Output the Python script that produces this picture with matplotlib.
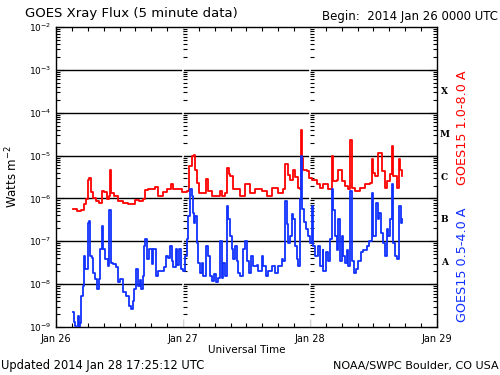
import numpy as np
import matplotlib
matplotlib.use("Agg")
import matplotlib.pyplot as plt
from matplotlib.ticker import FixedLocator, LogLocator, NullFormatter

# hours since 2014 Jan 26 00:00 UTC, log10 flux (W m^-2)
long_hours = [3.27, 3.91, 4.72, 5.35, 5.67, 5.99, 6.29, 6.61, 6.94, 7.56, 8.18, 8.69, 9.13,
              9.58, 10.07, 10.20, 10.45, 11.02, 11.66, 12.60, 13.55, 14.49, 14.99, 15.74,
              16.50, 16.88, 17.44, 18.39, 18.71, 19.33, 20.28, 20.92, 21.68, 22.17, 22.81,
              23.75, 24.70, 25.19, 25.64, 26.08, 26.27, 26.59, 27.08, 27.84, 28.35, 28.78,
              29.42, 30.24, 30.99, 31.31, 31.94, 32.37, 32.75, 32.88, 33.51, 34.77, 35.72,
              36.66, 37.61, 38.87, 39.82, 40.76, 42.01, 42.96, 43.33, 43.75, 44.22, 44.85,
              45.17, 45.79, 46.11, 46.26, 46.43, 46.73, 47.38, 47.87, 48.32, 49.27, 49.89,
              50.52, 51.46, 52.10, 52.40, 53.05, 53.35, 53.99, 54.61, 55.24, 55.56, 55.88,
              56.50, 57.45, 58.39, 59.34, 59.66, 59.96, 60.28, 60.91, 61.55, 62.17, 62.49,
              63.12, 63.44, 63.75, 64.39, 64.82, 65.01, 65.33]
long_flux = [-6.24, -6.30, -6.27, -6.14, -6.02, -5.56, -5.52, -5.86, -5.98, -6.06, -6.10, -5.83,
             -5.86, -6.02, -5.95, -5.33, -5.87, -5.95, -6.06, -6.10, -6.12, -6.12, -6.04, -6.06,
             -6.01, -5.81, -5.79, -5.79, -5.73, -5.95, -5.85, -5.79, -5.67, -5.79, -5.79, -5.85,
             -5.83, -5.25, -5.02, -4.98, -5.33, -5.64, -5.87, -5.87, -5.54, -5.83, -5.95, -5.95,
             -5.83, -5.95, -5.87, -5.29, -5.44, -5.48, -5.79, -5.95, -5.67, -5.87, -5.79, -5.83,
             -5.95, -5.75, -5.87, -5.79, -5.19, -5.45, -5.56, -5.33, -5.51, -5.75, -5.79, -4.40,
             -5.05, -5.33, -5.37, -5.52, -5.56, -5.67, -5.75, -5.67, -5.79, -5.02, -5.60, -5.56,
             -5.33, -5.60, -5.71, -5.79, -4.63, -5.75, -5.83, -5.75, -5.67, -5.64, -5.09, -5.40,
             -5.48, -4.93, -5.37, -5.75, -5.60, -5.44, -4.78, -5.48, -5.75, -5.09, -5.33, -5.48]

short_hours = [3.27, 3.40, 3.65, 3.87, 4.10, 4.40, 4.54, 4.72, 5.05, 5.35, 5.54, 5.99, 6.29,
               6.48, 6.80, 7.05, 7.43, 7.69, 8.07, 8.37, 8.64, 8.94, 9.32, 9.77, 10.07, 10.39,
               10.83, 11.34, 11.66, 12.09, 12.60, 13.23, 13.74, 14.17, 14.55, 14.80, 15.12,
               15.44, 15.78, 16.06, 16.50, 16.69, 16.88, 17.25, 17.63, 18.09, 18.39, 18.90,
               19.33, 19.98, 20.41, 20.79, 21.22, 21.54, 21.86, 22.17, 22.68, 22.92, 23.30,
               23.57, 23.94, 24.38, 24.70, 25.00, 25.32, 25.64, 25.83, 26.08, 26.27, 26.59,
               26.89, 27.21, 27.53, 27.84, 28.35, 28.67, 29.10, 29.42, 29.86, 30.24, 30.67,
               30.99, 31.31, 31.62, 31.94, 32.26, 32.37, 32.56, 32.88, 33.20, 33.51, 33.83,
               34.15, 34.45, 34.77, 35.40, 35.72, 36.04, 36.47, 36.85, 37.29, 37.93, 38.23,
               38.87, 39.18, 39.63, 40.12, 40.76, 41.39, 42.01, 42.65, 42.96, 43.28, 43.60,
               43.90, 44.22, 44.54, 44.85, 45.17, 45.49, 45.79, 46.11, 46.30, 46.55, 46.87,
               47.24, 47.68, 48.00, 48.32, 48.51, 48.95, 49.57, 49.89, 50.40, 50.52, 51.02,
               51.46, 51.78, 52.10, 52.40, 52.72, 53.05, 53.35, 53.67, 53.99, 54.29, 54.61,
               54.93, 55.24, 55.56, 55.88, 56.31, 56.69, 57.13, 57.58, 58.07, 58.71, 59.21,
               59.66, 59.96, 60.42, 60.80, 61.10, 61.36, 61.74, 62.17, 62.49, 62.80, 63.12,
               63.44, 63.75, 64.06, 64.50, 64.88, 65.14, 65.33]
short_flux = [-8.66, -8.88, -8.97, -9.10, -8.74, -9.05, -8.90, -8.27, -8.04, -7.34, -7.65, -6.57,
              -6.53, -7.34, -7.40, -7.73, -7.88, -8.12, -7.88, -7.19, -6.64, -7.19, -7.42, -7.57,
              -6.26, -7.50, -7.53, -7.60, -7.96, -7.88, -8.19, -8.27, -8.50, -8.58, -8.40, -8.12,
              -7.65, -8.04, -7.90, -8.12, -7.81, -7.11, -6.95, -7.42, -7.19, -7.53, -7.19, -7.81,
              -7.69, -7.70, -7.61, -7.34, -7.40, -7.11, -7.47, -7.61, -7.19, -7.56, -7.19, -7.65,
              -7.69, -7.34, -6.95, -6.41, -5.79, -5.95, -6.33, -6.57, -6.41, -7.03, -7.50, -7.73,
              -7.50, -7.81, -7.11, -7.34, -7.81, -7.92, -7.77, -7.96, -7.85, -6.99, -7.85, -7.50,
              -7.81, -6.88, -6.18, -6.49, -6.88, -7.19, -7.42, -7.11, -7.47, -7.73, -7.81, -7.19,
              -6.99, -7.47, -7.73, -7.35, -7.58, -7.55, -7.70, -7.34, -7.58, -7.81, -7.70, -7.58,
              -7.73, -7.58, -7.42, -7.45, -6.06, -6.60, -7.03, -6.88, -6.37, -6.49, -7.11, -7.42,
              -7.58, -6.02, -5.02, -6.25, -6.56, -6.72, -6.88, -7.03, -6.18, -7.11, -7.34, -7.11,
              -7.57, -7.20, -7.69, -7.26, -7.47, -6.95, -5.79, -6.26, -6.88, -7.20, -6.49, -7.47,
              -6.88, -7.34, -7.50, -7.20, -7.57, -5.83, -7.47, -7.73, -7.65, -7.47, -7.26, -7.20,
              -7.11, -6.99, -5.87, -6.88, -6.10, -6.49, -6.33, -6.80, -7.03, -7.34, -6.72, -6.88,
              -6.49, -5.67, -7.03, -7.34, -7.42, -6.18, -6.57, -6.49]

day_labels = ["Jan 26", "Jan 27", "Jan 28", "Jan 29"]
flare_classes = ["X", "M", "C", "B", "A"]

fig = plt.figure(figsize=(5, 3.75), dpi=100)
ax = fig.add_axes([0.112, 0.128, 0.762, 0.80])

ax.set_yscale("log")
ax.set_ylim(1e-9, 1e-2)
ax.set_xlim(0, 72)

for k in range(-8, -2):
    ax.axhline(10.0 ** k, color="black", lw=1.0, zorder=1)

# little tick columns at the day boundaries
minor_vals = [m * 10.0 ** k for k in range(-9, -2) for m in range(2, 10)]
for d in (24, 48):
    ax.axvline(d, color="white", lw=1.2, zorder=2)
    ax.plot([d] * len(minor_vals), minor_vals, ls="none", marker=1, ms=3,
            mew=0.8, color="black", zorder=3)

ax.plot(long_hours, 10.0 ** np.array(long_flux), color="#ff0000", lw=1.3,
        drawstyle="steps-post", zorder=4)
ax.plot(short_hours, 10.0 ** np.array(short_flux), color="#1030ff", lw=1.3,
        drawstyle="steps-post", zorder=4)

ax.set_xticks([0, 24, 48, 72])
ax.set_xticklabels(day_labels, fontsize=7)
ax.xaxis.set_minor_locator(FixedLocator(np.arange(0, 73, 3)))
ax.set_yticks([10.0 ** k for k in range(-9, -1)])
ax.set_yticklabels([r"$10^{%d}$" % k for k in range(-9, -1)], fontsize=6.5)
ax.yaxis.set_minor_locator(LogLocator(base=10, subs=np.arange(2, 10)))
ax.yaxis.set_minor_formatter(NullFormatter())
ax.tick_params(which="both", direction="in", top=True, right=True, width=0.8)
ax.tick_params(which="major", length=6)
ax.tick_params(which="minor", length=3)
ax.tick_params(axis="x", pad=5)
for s in ax.spines.values():
    s.set_linewidth(1.0)

ax.set_xlabel("Universal Time", fontsize=7.5, labelpad=1)
ax.set_ylabel(r"Watts m$^{-2}$", fontsize=8.5, labelpad=6)

fig.text(0.05, 0.965, "GOES Xray Flux (5 minute data)", fontsize=9.5, va="center")
fig.text(0.996, 0.955, "Begin:  2014 Jan 26 0000 UTC", fontsize=8.5, va="center", ha="right")
fig.text(0.002, 0.025, "Updated 2014 Jan 28 17:25:12 UTC", fontsize=8.3, va="center")
fig.text(0.998, 0.025, "NOAA/SWPC Boulder, CO USA", fontsize=8, va="center", ha="right")

for i, c in enumerate(flare_classes):
    ax.text(1.02, 10.0 ** (-3.5 - i), c, transform=ax.get_yaxis_transform(),
            fontsize=6.5, fontweight="bold", family="DejaVu Serif", va="center", ha="center")

fig.text(0.924, 0.659, "GOES15 1.0-8.0 A", color="#ff0000", fontsize=9.2,
         rotation=90, va="center", ha="center")
fig.text(0.924, 0.293, "GOES15 0.5-4.0 A", color="#1030ff", fontsize=9.2,
         rotation=90, va="center", ha="center")

fig.savefig("out.png", dpi=100)
